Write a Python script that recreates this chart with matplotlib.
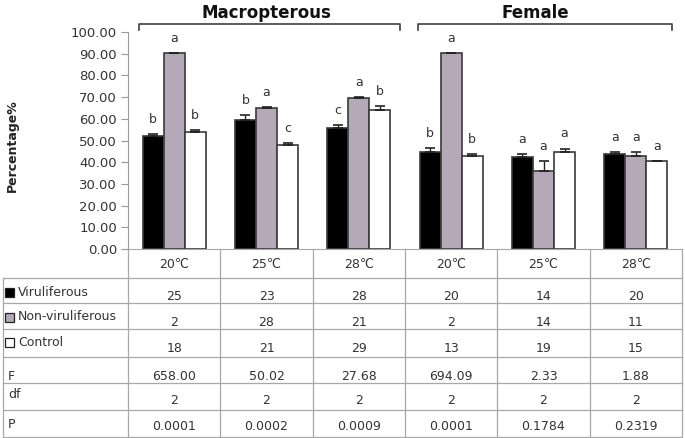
import matplotlib
matplotlib.use("Agg")
import matplotlib.pyplot as plt
import matplotlib.transforms as mtransforms
from matplotlib.patches import Rectangle
import numpy as np

# ---- data ----
temps = ["20℃", "25℃", "28℃", "20℃", "25℃", "28℃"]
groups = ["Macropterous", "Female"]
series = ["Viruliferous", "Non-viruliferous", "Control"]
viruliferous = [52.3, 59.3, 55.6, 44.9, 42.2, 43.8]
non_viruliferous = [90.2, 65.0, 69.6, 90.2, 36.1, 42.7]
control = [53.7, 47.9, 64.2, 42.7, 44.7, 40.4]
err_v = [0.5, 2.5, 1.5, 1.5, 1.4, 0.9]
err_nv = [0.3, 0.4, 0.3, 0.0, 4.3, 2.0]
err_c = [1.0, 1.0, 1.5, 1.0, 1.6, 0.0]
letters_v = ["b", "b", "c", "b", "a", "a"]
letters_nv = ["a", "a", "a", "a", "a", "a"]
letters_c = ["b", "c", "b", "b", "a", "a"]
n_v = ["25", "23", "28", "20", "14", "20"]
n_nv = ["2", "28", "21", "2", "14", "11"]
n_c = ["18", "21", "29", "13", "19", "15"]
F_vals = ["658.00", "50.02", "27.68", "694.09", "2.33", "1.88"]
df_vals = ["2", "2", "2", "2", "2", "2"]
P_vals = ["0.0001", "0.0002", "0.0009", "0.0001", "0.1784", "0.2319"]
yticks = [0, 10, 20, 30, 40, 50, 60, 70, 80, 90, 100]

# ---- style ----
colors = ["#000000", "#b5a9b9", "#ffffff"]
edge = "#3a3a3a"
txt = "#333333"
grid = "#a8a8a8"
W, H = 685, 438

fig = plt.figure(figsize=(W / 100, H / 100), dpi=100)
ax = fig.add_axes([128 / W, (H - 249) / H, (682 - 128) / W, (249 - 32) / H])
ov = fig.add_axes([0, 0, 1, 1], facecolor="none")
ov.set_xlim(0, W)
ov.set_ylim(H, 0)
ov.axis("off")

x = np.arange(len(temps))
bw = 0.228
vals = [viruliferous, non_viruliferous, control]
errs = [err_v, err_nv, err_c]
lets = [letters_v, letters_nv, letters_c]
for j in range(3):
    xs = x + (j - 1) * bw
    ax.bar(xs, vals[j], width=bw, color=colors[j], edgecolor=edge, linewidth=1.2, zorder=2)
    ax.errorbar(xs, vals[j], yerr=[np.zeros(len(x)), errs[j]], fmt="none",
                ecolor="#222222", elinewidth=1, capsize=3.5, capthick=1.2, zorder=3)
    for xi, v, e, l in zip(xs, vals[j], errs[j], lets[j]):
        ax.annotate(l, (xi, v + e), xytext=(0, 10.5), textcoords="offset points",
                    ha="center", va="center", fontsize=9, color=txt)

ax.set_xlim(-0.5, len(temps) - 0.5)
ax.set_ylim(0, 100)
ax.set_yticks(yticks)
ax.set_yticklabels([f"{t:.2f}" for t in yticks])
ax.tick_params(axis="y", length=5, width=0.8, color="#999999", labelsize=9.5,
               labelcolor=txt, pad=3)
ax.set_xticks([])
for s in ["top", "right"]:
    ax.spines[s].set_visible(False)
ax.spines["left"].set_color("#999999")
ax.spines["bottom"].set_color(grid)
ax.patch.set_alpha(0)

fig.text(12 / W, 1 - 146 / H, "Percentage%", rotation=90, ha="center", va="center",
         fontsize=9, fontweight="bold", color="#222222")

# ---- group brackets and titles ----
brackets = [(139, 400), (418, 672)]
title_x = [266, 535]
for (x0, x1), tx, g in zip(brackets, title_x, groups):
    ov.plot([x0, x0, x1, x1], [30, 24, 24, 30], color="#404040", lw=1.2)
    ov.text(tx, 13, g, ha="center", va="center", fontsize=12, fontweight="bold",
            color="#111111")

# ---- table ----
bt = mtransforms.blended_transform_factory(ax.transData, ov.transData)
rows_y = [249, 278, 303, 329, 357, 383, 410, 437]
for y in rows_y[1:]:
    ov.plot([3, 682], [y, y], color=grid, lw=0.9)
ov.plot([3, 3], [278, 437], color=grid, lw=0.9)
for i in range(len(temps) + 1):
    ov.plot([i - 0.5, i - 0.5], [249, 437], color=grid, lw=0.9, transform=bt)

for i, t in enumerate(temps):
    ov.text(i, 264, t, ha="center", va="center", fontsize=9, color=txt, transform=bt)

row_vals = [n_v, n_nv, n_c, F_vals, df_vals, P_vals]
val_y = [297, 322, 348, 376, 401, 427]
for rv, yy in zip(row_vals, val_y):
    for i, s in enumerate(rv):
        ov.text(i, yy, s, ha="center", va="center", fontsize=9, color=txt, transform=bt)

label_y = [292, 317, 342]
for j, (name, yy) in enumerate(zip(series, label_y)):
    ov.add_patch(Rectangle((5, yy - 4.5), 9, 9, facecolor=colors[j], edgecolor="#222222", lw=0.9))
    ov.text(18, yy, name, ha="left", va="center", fontsize=9, color=txt)

for name, yy in zip(["F", "df", "P"], [376, 394, 425]):
    ov.text(8, yy, name, ha="left", va="center", fontsize=9, color=txt)

fig.savefig("out.png", dpi=100)
